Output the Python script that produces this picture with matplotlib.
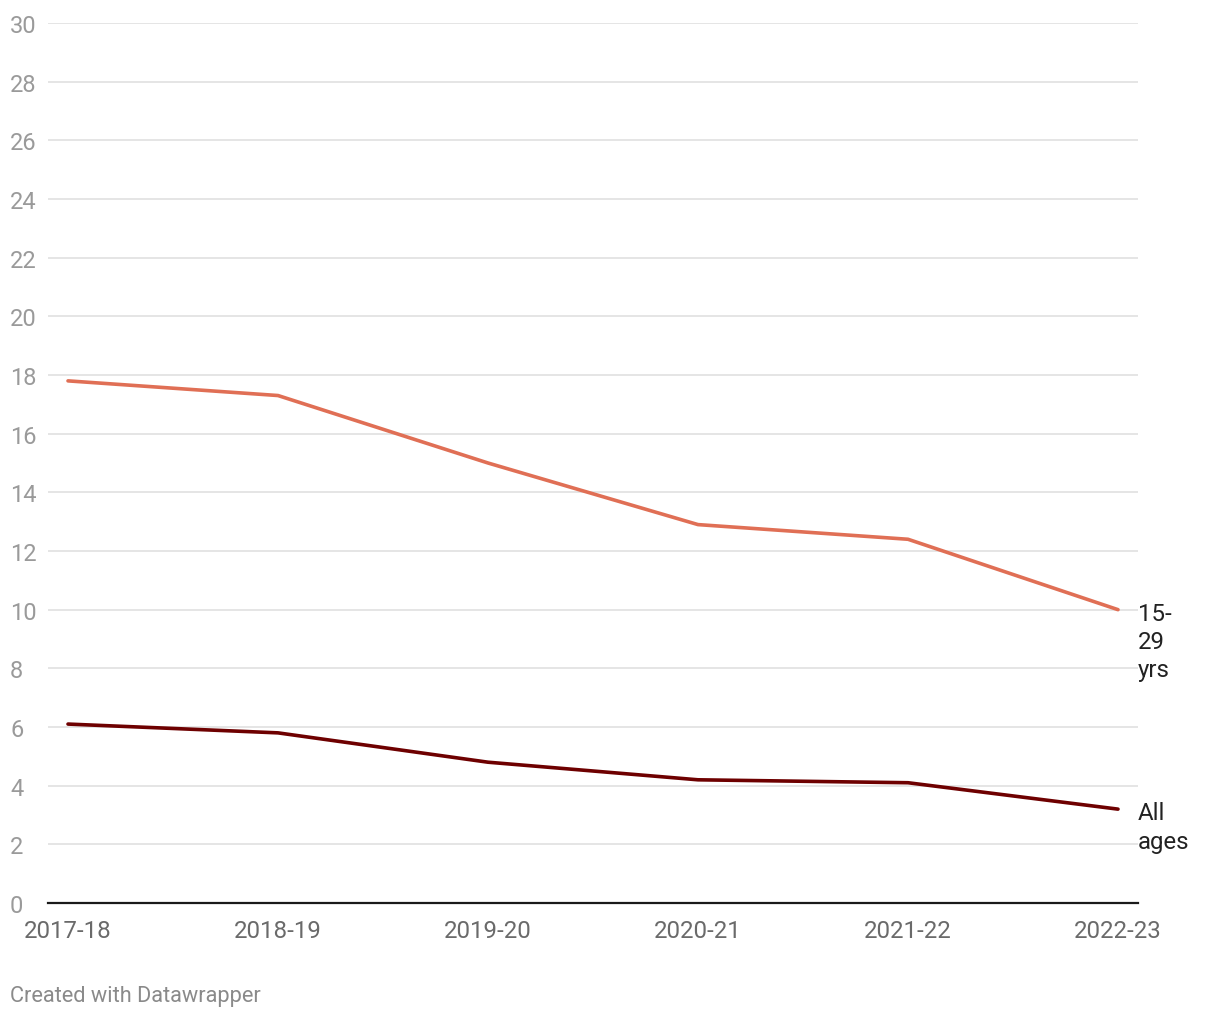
import matplotlib
matplotlib.use("Agg")
import matplotlib.pyplot as plt

plt.rcParams["font.family"] = ["Roboto", "DejaVu Sans"]

years = ["2017-18", "2018-19", "2019-20", "2020-21", "2021-22", "2022-23"]
youth = [17.8, 17.3, 15.0, 12.9, 12.4, 10.0]
all_ages = [6.1, 5.8, 4.8, 4.2, 4.1, 3.2]
series_labels = ["15-\n29\nyrs", "All\nages"]

W, H = 1220, 1020
fig = plt.figure(figsize=(W / 100, H / 100), dpi=100)
ax = fig.add_axes([48 / W, 116 / H, (1138 - 48) / W, (904 - 24) / H])

x = list(range(len(years)))
pad = 20 / 210
ax.set_xlim(-pad, len(years) - 1 + pad)
ax.set_ylim(0, 30)

ax.set_yticks(range(0, 31, 2))
ax.grid(axis="y", color="#e3e3e3", linewidth=1.3)
ax.set_axisbelow(True)
for s in ["top", "right", "left"]:
    ax.spines[s].set_visible(False)
ax.spines["bottom"].set_color("#1a1a1a")
ax.spines["bottom"].set_linewidth(1.6)
ax.spines["bottom"].set_zorder(5)

ax.tick_params(axis="y", length=0, pad=38 / 100 * 72, labelsize=17,
               labelcolor="#9a9a9a")
for lab in ax.get_yticklabels():
    lab.set_horizontalalignment("left")
ax.set_xticks(x)
ax.set_xticklabels(years)
ax.tick_params(axis="x", length=0, pad=11.5, labelsize=17.3, labelcolor="#6a6a6a")

c_youth = "#e06f55"
c_all = "#6e0000"
ax.plot(x, youth, color=c_youth, linewidth=2.6, solid_capstyle="round", zorder=3)
ax.plot(x, all_ages, color=c_all, linewidth=2.6, solid_capstyle="round", zorder=3)

for vals, lab in zip([youth, all_ages], series_labels):
    ax.annotate(lab, xy=(x[-1], vals[-1]), xytext=(14.4, 5.5),
                textcoords="offset points", ha="left", va="top",
                fontsize=17.3, color="#222222", linespacing=1.28,
                annotation_clip=False)

fig.text(10 / W, 1 - 997 / H, "Created with Datawrapper", ha="left", va="center",
         fontsize=15.7, color="#8a8a8a")

fig.savefig("out.png", dpi=100)
